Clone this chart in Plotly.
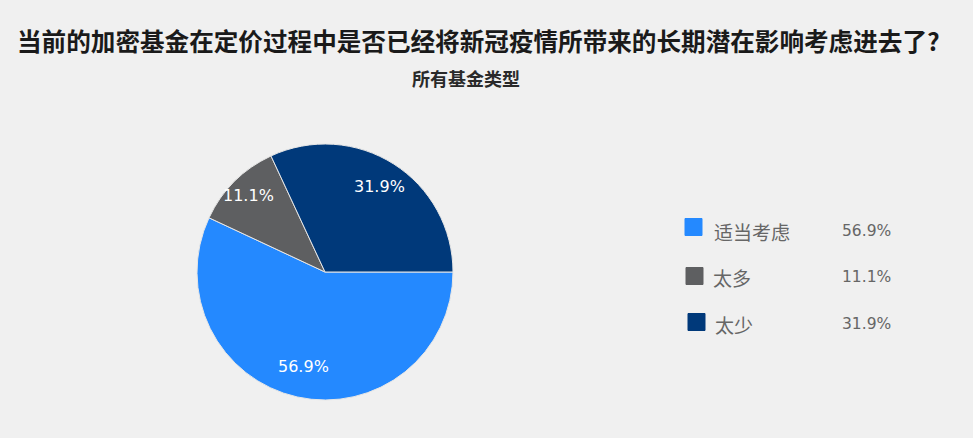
import math
import plotly.graph_objects as go

categories = ["适当考虑", "太多", "太少"]
values = [56.9, 11.1, 31.9]
colors = ["#2489FF", "#5E5F61", "#00397A"]
title_text = "当前的加密基金在定价过程中是否已经将新冠疫情所带来的长期潜在影响考虑进去了?"
subtitle_text = "所有基金类型"

W, H = 973, 438
CX, CY, R = 325, 272, 128
fig = go.Figure()
fig.add_trace(go.Pie(
    labels=categories, values=values, sort=False, direction="clockwise", rotation=90,
    marker=dict(colors=colors, line=dict(color="#E6E6E6", width=1)),
    textinfo="none",
    domain=dict(x=[(CX-R)/W, (CX+R)/W], y=[1-(CY+R)/H, 1-(CY-R)/H]),
    showlegend=False, hoverinfo="label+value",
))

anns = [
    dict(text="<b>" + title_text + "</b>", x=478/W, y=1-40/H, xref="paper", yref="paper", showarrow=False,
         font=dict(size=24.6, color="#1a1a1a", family="Noto Sans CJK SC"), xanchor="center", yanchor="middle"),
    dict(text="<b>" + subtitle_text + "</b>", x=466/W, y=1-78/H, xref="paper", yref="paper", showarrow=False,
         font=dict(size=18, color="#2a2a2a", family="Noto Sans CJK SC"), xanchor="center", yanchor="middle"),
]

# slice labels placed at mid-angle of each slice
total = sum(values)
radial = [0.76, 0.85, 0.79]
start = 0.0
for i, v in enumerate(values):
    mid = start + v / total * 360 / 2
    start += v / total * 360
    ang = math.radians(-mid)  # clockwise from 3 o'clock
    px = CX + radial[i] * R * math.cos(ang)
    py = CY - radial[i] * R * math.sin(ang)
    anns.append(dict(text=f"{v:.1f}%", x=px/W, y=1-py/H, xref="paper", yref="paper", showarrow=False,
                     xanchor="center", yanchor="middle",
                     font=dict(size=16, color="white", family="DejaVu Sans")))

shapes = []
sq_y = [227, 276, 322]
lab_y = [231, 277, 324]
sq_x = [685, 686, 688]
lab_x = [712, 711, 713]
for i, (c, v, col) in enumerate(zip(categories, values, colors)):
    shapes.append(dict(type="rect", xref="paper", yref="paper",
                       x0=sq_x[i]/W, x1=(sq_x[i]+17)/W, y0=1-(sq_y[i]+8.5)/H, y1=1-(sq_y[i]-8.5)/H,
                       fillcolor=col, line=dict(color=col, width=1)))
    anns.append(dict(text=c, x=lab_x[i]/W, y=1-lab_y[i]/H, xref="paper", yref="paper", showarrow=False,
                     xanchor="left", yanchor="middle",
                     font=dict(size=19, color="#666666", family="Noto Sans CJK SC")))
    anns.append(dict(text=f"{v:.1f}%", x=893/W, y=1-lab_y[i]/H, xref="paper", yref="paper", showarrow=False,
                     xanchor="right", yanchor="middle",
                     font=dict(size=15.5, color="#666666", family="DejaVu Sans")))

fig.update_layout(
    width=W, height=H, margin=dict(l=0, r=0, t=0, b=0),
    paper_bgcolor="#F0F0F0", plot_bgcolor="#F0F0F0",
    annotations=anns, shapes=shapes,
)
fig.write_html("out.html", config={"displayModeBar": False},
               post_script="document.body.style.margin='0';document.body.style.background='#F0F0F0';document.body.style.overflow='hidden';")
